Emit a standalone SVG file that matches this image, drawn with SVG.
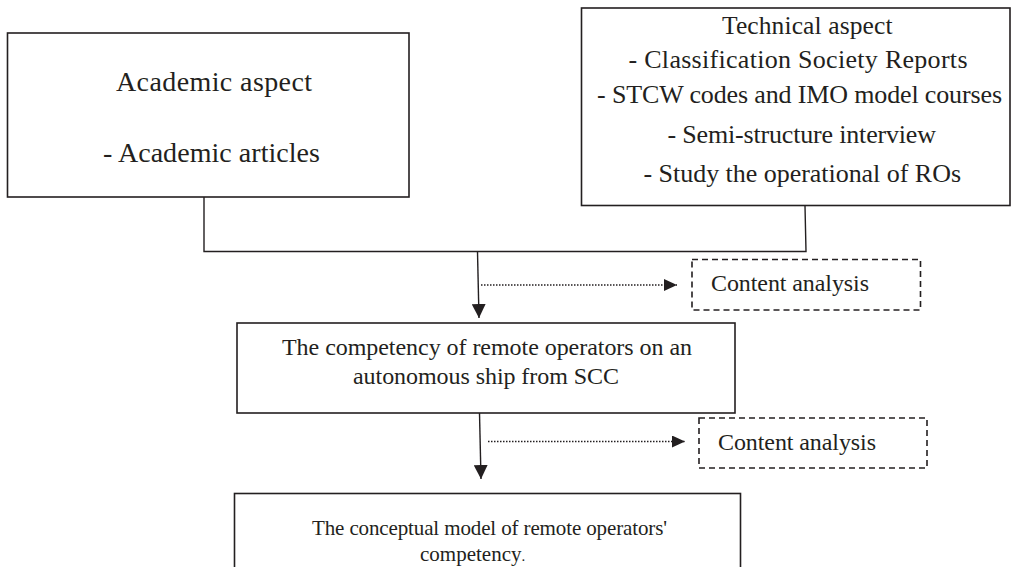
<svg xmlns="http://www.w3.org/2000/svg" width="1013" height="567" viewBox="0 0 1013 567">
  <style>
    .box { fill: #ffffff; stroke: #231f20; stroke-width: 1.6; }
    .dbox { fill: #ffffff; stroke: #231f20; stroke-width: 1.6; stroke-dasharray: 6 4; }
    .t { font-family: "Liberation Serif", "Times New Roman", serif; fill: #231f20; }
    .conn { fill: none; stroke: #231f20; stroke-width: 1.4; }
    .dot { fill: none; stroke: #231f20; stroke-width: 1.6; stroke-dasharray: 1.5 1.5; }
  </style>
  <defs>
    <marker id="arr" markerUnits="userSpaceOnUse" markerWidth="14" markerHeight="14" refX="14" refY="7" orient="auto">
      <path d="M0,0 L14,7 L0,14 Z" fill="#231f20"/>
    </marker>
    <marker id="arrs" markerUnits="userSpaceOnUse" markerWidth="13" markerHeight="12" refX="13" refY="6" orient="auto">
      <path d="M0,0 L13,6 L0,12 Z" fill="#231f20"/>
    </marker>
  </defs>
  <rect width="1013" height="567" fill="#ffffff"/>

  <g id="connectors">
    <polyline class="conn" points="204,197 204,251.5 806,251.5 805,206"/>
    <line class="conn" x1="477.5" y1="252" x2="479" y2="318" marker-end="url(#arr)"/>
    <line class="dot" x1="481" y1="285" x2="677" y2="285" marker-end="url(#arrs)"/>
    <line class="conn" x1="479.5" y1="413" x2="481" y2="479" marker-end="url(#arr)"/>
    <line class="dot" x1="488" y1="441.5" x2="685" y2="441.5" marker-end="url(#arrs)"/>
  </g>

  <g id="academic">
    <rect class="box" x="7.5" y="33" width="401.5" height="164"/>
    <text class="t" x="116" y="90.5" font-size="28" textLength="196">Academic aspect</text>
    <text class="t" x="103" y="161.5" font-size="28" textLength="217">- Academic articles</text>
  </g>

  <g id="technical">
    <rect class="box" x="581.5" y="8" width="428.5" height="197.5"/>
    <text class="t" x="722" y="34.3" font-size="25.5" textLength="170.5">Technical aspect</text>
    <text class="t" x="628.5" y="68.3" font-size="26" textLength="339">- Classification Society Reports</text>
    <text class="t" x="597" y="102.5" font-size="26" textLength="405">- STCW codes and IMO model courses</text>
    <text class="t" x="667.5" y="143" font-size="26" textLength="268.5">- Semi-structure interview</text>
    <text class="t" x="643.5" y="181.5" font-size="26" textLength="317.5">- Study the operational of ROs</text>
  </g>

  <g id="content1">
    <rect class="dbox" x="692" y="259.5" width="228.5" height="50.5"/>
    <text class="t" x="711" y="291" font-size="24" textLength="158">Content analysis</text>
  </g>

  <g id="competency">
    <rect class="box" x="237" y="323" width="498" height="90"/>
    <text class="t" x="282" y="355" font-size="24" textLength="410">The competency of remote operators on an</text>
    <text class="t" x="353" y="384" font-size="24" textLength="266">autonomous ship from SCC</text>
  </g>

  <g id="content2">
    <rect class="dbox" x="699" y="418" width="228" height="50"/>
    <text class="t" x="718" y="450" font-size="24" textLength="158">Content analysis</text>
  </g>

  <g id="model">
    <rect class="box" x="234.5" y="493.5" width="506" height="90"/>
    <text class="t" x="312" y="534.5" font-size="21" textLength="355">The conceptual model of remote operators'</text>
    <text class="t" x="420" y="561" font-size="21">competency<tspan font-size="15">.</tspan></text>
  </g>
</svg>
